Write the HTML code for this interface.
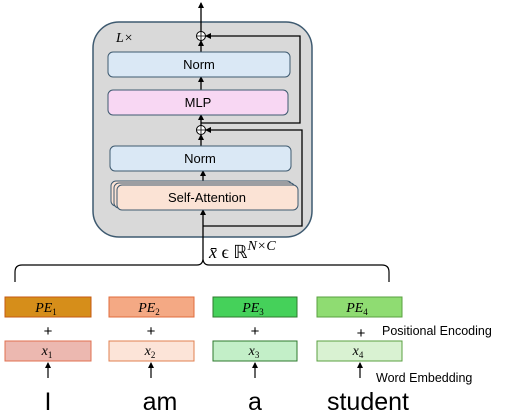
<!DOCTYPE html>
<html><head><style>body{margin:0;background:#fff}svg{display:block}</style></head><body>
<svg width="511" height="416" viewBox="0 0 511 416" xmlns="http://www.w3.org/2000/svg" font-family="Liberation Sans, sans-serif">
<defs><marker id="a" markerWidth="6" markerHeight="6" refX="5" refY="3" orient="auto" markerUnits="userSpaceOnUse"><path d="M0,0 L6,3 L0,6 z" fill="#000"/></marker></defs>
<rect x="93" y="22" width="219" height="215" rx="26" fill="#d9d9d9" stroke="#3e5a70" stroke-width="1.5"/>
<text x="116" y="42" font-size="14" font-style="italic" font-family="Liberation Serif, serif">L×</text>
<line x1="201" y1="32" x2="201" y2="3" stroke="#000" stroke-width="1.3" marker-end="url(#a)"/>
<line x1="201" y1="52" x2="201" y2="41" stroke="#000" stroke-width="1.3" marker-end="url(#a)"/>
<line x1="201" y1="90" x2="201" y2="77" stroke="#000" stroke-width="1.3" marker-end="url(#a)"/>
<line x1="201" y1="126" x2="201" y2="115" stroke="#000" stroke-width="1.3" marker-end="url(#a)"/>
<line x1="201" y1="146" x2="201" y2="135" stroke="#000" stroke-width="1.3" marker-end="url(#a)"/>
<line x1="203" y1="183" x2="203" y2="171" stroke="#000" stroke-width="1.3" marker-end="url(#a)"/>
<line x1="203" y1="258" x2="203" y2="210" stroke="#000" stroke-width="1.3" marker-end="url(#a)"/>
<polyline points="201,123 300,123 300,36 206,36" fill="none" stroke="#000" stroke-width="1.3" marker-end="url(#a)"/>
<polyline points="203,226 302,226 302,130 206,130" fill="none" stroke="#000" stroke-width="1.3" marker-end="url(#a)"/>
<circle cx="201" cy="36" r="4.5" fill="#fff" stroke="#000" stroke-width="1"/>
<path d="M196.5,36 h9 M201,31.5 v9" stroke="#000" stroke-width="0.8"/>
<circle cx="201" cy="130" r="4.5" fill="#fff" stroke="#000" stroke-width="1"/>
<path d="M196.5,130 h9 M201,125.5 v9" stroke="#000" stroke-width="0.8"/>
<rect x="108" y="52" width="182" height="25" rx="5" fill="#dae8f5" stroke="#3e5a70" stroke-width="1"/>
<text x="199" y="69" font-size="13" text-anchor="middle">Norm</text>
<rect x="108" y="90" width="180" height="25" rx="5" fill="#f8d7f3" stroke="#3e5a70" stroke-width="1"/>
<text x="198" y="107" font-size="13" text-anchor="middle">MLP</text>
<rect x="110" y="146" width="181" height="25" rx="5" fill="#dae8f5" stroke="#3e5a70" stroke-width="1"/>
<text x="200" y="163" font-size="13" text-anchor="middle">Norm</text>
<rect x="111" y="181" width="181" height="25" rx="5" fill="#fbe3d5" stroke="#3e5a70" stroke-width="1"/>
<rect x="114" y="183" width="181" height="25" rx="5" fill="#fbe3d5" stroke="#3e5a70" stroke-width="1"/>
<rect x="117" y="185" width="181" height="25" rx="5" fill="#fbe3d5" stroke="#3e5a70" stroke-width="1"/>
<text x="207" y="202" font-size="13" text-anchor="middle">Self-Attention</text>
<path d="M15,282 V272 Q15,265 22,265 H197 Q203,265 203,258 M203,258 Q203,265 209,265 H382 Q389,265 389,272 V282" fill="none" stroke="#000" stroke-width="1.2"/>
<text x="209" y="258" font-size="18" font-family="Liberation Serif, serif"><tspan font-style="italic">x̄</tspan> ϵ ℝ<tspan font-size="14" dy="-8" font-style="italic">N×C</tspan></text>
<g font-family="Liberation Serif, serif" font-style="italic" font-size="14" text-anchor="middle">
<rect x="5" y="297" width="86" height="20" fill="#d68e1a" stroke="#c55a11"/><text x="46" y="312">PE<tspan font-size="9" dy="3" font-style="normal">1</tspan></text>
<rect x="109" y="297" width="85" height="20" fill="#f4a984" stroke="#e06c3c"/><text x="149" y="312">PE<tspan font-size="9" dy="3" font-style="normal">2</tspan></text>
<rect x="213" y="297" width="84" height="20" fill="#45d15a" stroke="#2d7a2d"/><text x="253" y="312">PE<tspan font-size="9" dy="3" font-style="normal">3</tspan></text>
<rect x="317" y="297" width="85" height="20" fill="#8fdc72" stroke="#5aa040"/><text x="357" y="312">PE<tspan font-size="9" dy="3" font-style="normal">4</tspan></text>
<rect x="5" y="341" width="86" height="20" fill="#ecb8b0" stroke="#e07050"/><text x="47" y="355">x<tspan font-size="9" dy="3" font-style="normal">1</tspan></text>
<rect x="109" y="341" width="85" height="20" fill="#fce4d8" stroke="#e08050"/><text x="150" y="355">x<tspan font-size="9" dy="3" font-style="normal">2</tspan></text>
<rect x="213" y="341" width="84" height="20" fill="#c3efc8" stroke="#2d7a2d"/><text x="254" y="355">x<tspan font-size="9" dy="3" font-style="normal">3</tspan></text>
<rect x="317" y="341" width="85" height="20" fill="#d9f2d2" stroke="#5aa040"/><text x="358" y="355">x<tspan font-size="9" dy="3" font-style="normal">4</tspan></text>
</g>
<g font-size="15" text-anchor="middle"><text x="48" y="336">+</text><text x="151" y="336">+</text><text x="255" y="336">+</text><text x="361" y="338">+</text></g>
<g stroke="#000" stroke-width="1.2">
<line x1="48" y1="378" x2="48" y2="363" marker-end="url(#a)"/>
<line x1="151" y1="378" x2="151" y2="363" marker-end="url(#a)"/>
<line x1="255" y1="378" x2="255" y2="363" marker-end="url(#a)"/>
<line x1="360" y1="378" x2="360" y2="363" marker-end="url(#a)"/>
</g>
<text x="382" y="335" font-size="12.5">Positional Encoding</text>
<text x="376" y="382" font-size="12.5">Word Embedding</text>
<g font-size="25" text-anchor="middle"><text x="48" y="410">I</text><text x="160" y="410">am</text><text x="255" y="410">a</text><text x="368" y="410">student</text></g>
</svg>
</body></html>
